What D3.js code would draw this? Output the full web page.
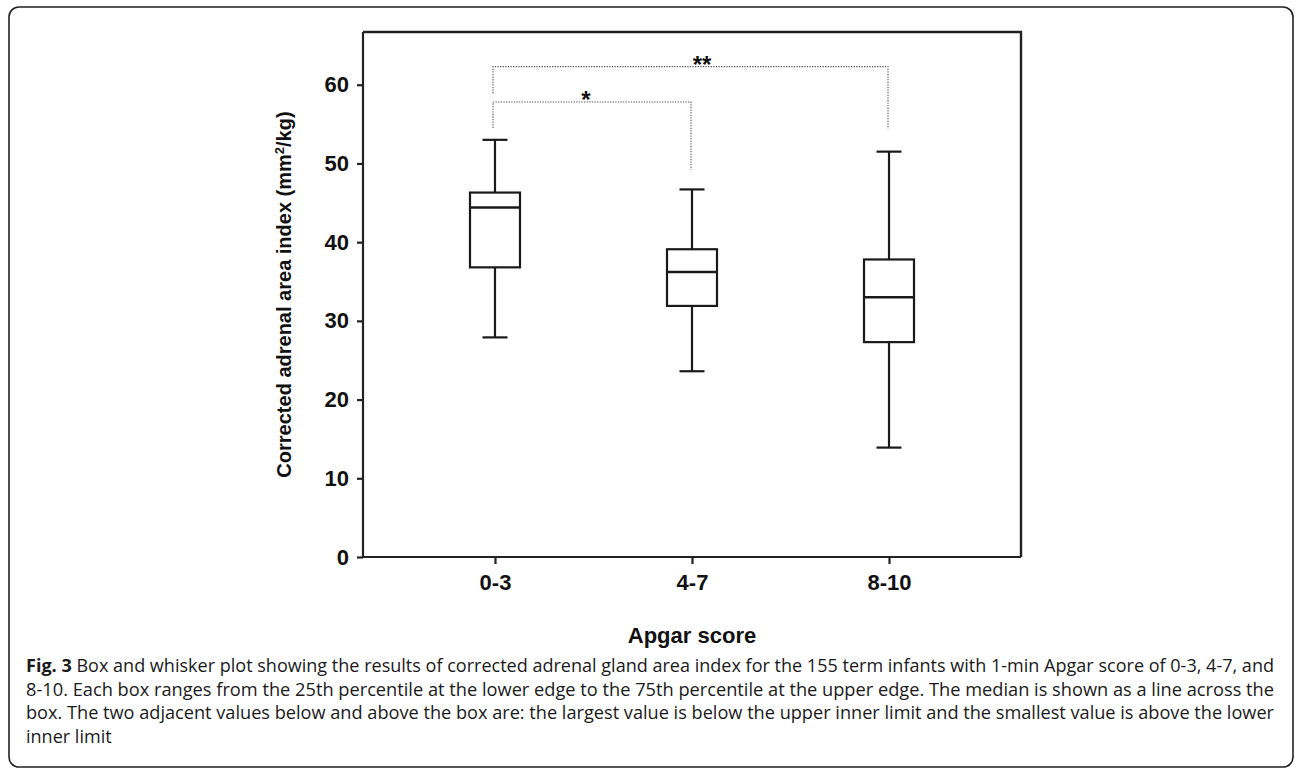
<!DOCTYPE html>
<html>
<head>
<meta charset="utf-8">
<script src="https://cdn.jsdelivr.net/npm/d3@7"></script>
<style>
  body { margin: 0; background: #fff; }
  svg { display: block; }
</style>
</head>
<body>
<div id="chart"></div>
<script>
// Data
var groups = ["0-3", "4-7", "8-10"];
var whiskerLow  = [27.9, 23.6, 13.9];
var q1          = [36.8, 31.9, 27.3];
var median      = [44.4, 36.2, 33.0];
var q3          = [46.3, 39.1, 37.8];
var whiskerHigh = [53.0, 46.7, 51.5];
var yTicks = [0, 10, 20, 30, 40, 50, 60];

// significance brackets: [from group, to group, bar level, left drop, right drop, label]
var brackets = [
    { from: "0-3", to: "4-7",  level: 57.8, left: 54.5, right: 49.2, label: "*" },
    { from: "0-3", to: "8-10", level: 62.3, left: 58.9, right: 54.4, label: "**" }
];

var caption = [
    ["Fig. 3", " Box and whisker plot showing the results of corrected adrenal gland area index for the 155 term infants with 1-min Apgar score of 0-3, 4-7, and"],
    ["", "8-10. Each box ranges from the 25th percentile at the lower edge to the 75th percentile at the upper edge. The median is shown as a line across the"],
    ["", "box. The two adjacent values below and above the box are: the largest value is below the upper inner limit and the smallest value is above the lower"],
    ["", "inner limit"]
];

var W = 1296, H = 770;
var plot = { left: 363, right: 1021, top: 32, bottom: 557 };

var svg = d3.select("#chart").append("svg")
    .attr("width", W)
    .attr("height", H);

// outer rounded frame
svg.append("rect")
    .attr("x", 9).attr("y", 7)
    .attr("width", 1284).attr("height", 760)
    .attr("rx", 10)
    .attr("fill", "none")
    .attr("stroke", "#222")
    .attr("stroke-width", 1.6);

var x = d3.scalePoint()
    .domain(groups)
    .range([plot.left, plot.right])
    .padding(0.67);

var y = d3.scaleLinear()
    .domain([0, 66.7])
    .range([plot.bottom, plot.top]);

var fontBold = "'Liberation Sans', Arial, sans-serif";

// plot frame (top and right)
svg.append("path")
    .attr("d", "M" + plot.left + "," + plot.top + "H" + plot.right + "V" + plot.bottom)
    .attr("fill", "none")
    .attr("stroke", "#222")
    .attr("stroke-width", 2.4);

// y axis
var yAxis = svg.append("g")
    .attr("transform", "translate(" + plot.left + ",0)")
    .call(d3.axisLeft(y).tickValues(yTicks).tickSize(6).tickPadding(8));
yAxis.select(".domain").attr("d", "M0," + plot.top + "V" + plot.bottom);

// x axis
var xAxis = svg.append("g")
    .attr("transform", "translate(0," + plot.bottom + ")")
    .call(d3.axisBottom(x).tickSize(7).tickPadding(10));
xAxis.select(".domain").attr("d", "M" + plot.left + ",0H" + plot.right);

svg.selectAll(".tick line, .domain")
    .attr("stroke", "#222")
    .attr("stroke-width", 2.2);
svg.selectAll(".tick text")
    .attr("fill", "#111")
    .style("font-family", fontBold)
    .style("font-weight", "bold")
    .style("font-size", "22px");

// axis titles
svg.append("text")
    .attr("transform", "translate(291," + ((plot.top + plot.bottom) / 2) + ") rotate(-90)")
    .attr("text-anchor", "middle")
    .style("font-family", fontBold)
    .style("font-weight", "bold")
    .style("font-size", "20px")
    .attr("fill", "#111")
    .html("Corrected adrenal area index (mm<tspan dy='-7' font-size='13px'>2</tspan><tspan dy='7'>/kg)</tspan>");

svg.append("text")
    .attr("x", (plot.left + plot.right) / 2)
    .attr("y", 643)
    .attr("text-anchor", "middle")
    .style("font-family", fontBold)
    .style("font-weight", "bold")
    .style("font-size", "22px")
    .attr("fill", "#111")
    .text("Apgar score");

// box plots
var boxW = 50, capW = 25;
var data = groups.map(function (g, i) {
    return { g: g, lo: whiskerLow[i], q1: q1[i], med: median[i], q3: q3[i], hi: whiskerHigh[i] };
});

var box = svg.selectAll(".box")
    .data(data)
    .enter().append("g")
    .attr("class", "box")
    .attr("stroke", "#1a1a1a")
    .attr("stroke-width", 2.2)
    .attr("fill", "none");

// whiskers
box.append("line")
    .attr("x1", d => x(d.g)).attr("x2", d => x(d.g))
    .attr("y1", d => y(d.hi)).attr("y2", d => y(d.q3));
box.append("line")
    .attr("x1", d => x(d.g)).attr("x2", d => x(d.g))
    .attr("y1", d => y(d.q1)).attr("y2", d => y(d.lo));
box.append("line")
    .attr("x1", d => x(d.g) - capW / 2).attr("x2", d => x(d.g) + capW / 2)
    .attr("y1", d => y(d.hi)).attr("y2", d => y(d.hi));
box.append("line")
    .attr("x1", d => x(d.g) - capW / 2).attr("x2", d => x(d.g) + capW / 2)
    .attr("y1", d => y(d.lo)).attr("y2", d => y(d.lo));
// box
box.append("rect")
    .attr("x", d => x(d.g) - boxW / 2)
    .attr("y", d => y(d.q3))
    .attr("width", boxW)
    .attr("height", d => y(d.q1) - y(d.q3))
    .attr("fill", "#fff");
// median
box.append("line")
    .attr("x1", d => x(d.g) - boxW / 2).attr("x2", d => x(d.g) + boxW / 2)
    .attr("y1", d => y(d.med)).attr("y2", d => y(d.med))
    .attr("stroke-width", 2.6);

// significance brackets (dotted)
var br = svg.selectAll(".bracket")
    .data(brackets)
    .enter().append("g")
    .attr("class", "bracket");

br.append("path")
    .attr("d", d => "M" + (x(d.from) - 2) + "," + y(d.left) +
        "V" + y(d.level) + "H" + (x(d.to) - 1) + "V" + y(d.right))
    .attr("fill", "none")
    .attr("stroke", "#555")
    .attr("stroke-width", 1.1)
    .attr("stroke-dasharray", "1.3,1.3");

br.append("text")
    .attr("x", d => d.label == "*" ? 586 : 702)
    .attr("y", d => y(d.level) + 6)
    .attr("text-anchor", "middle")
    .style("font-family", fontBold)
    .style("font-weight", "bold")
    .style("font-size", "24px")
    .attr("fill", "#111")
    .text(d => d.label);

// caption
var cap = svg.append("g")
    .style("font-family", "'Open Sans', sans-serif")
    .style("font-size", "18px")
    .attr("fill", "#1a1a1a");

var ratio = 1;
caption.forEach(function (line, i) {
    var t = cap.append("text")
        .attr("x", 26)
        .attr("y", 672 + i * 23.7);
    if (line[0]) {
        t.append("tspan").style("font-weight", "bold").text(line[0]);
    }
    t.append("tspan").text(line[1]);
    var natural = t.node().getComputedTextLength();
    if (i == 0) ratio = 1248 / natural;
    var target = i < caption.length - 1 ? 1248 : natural * ratio;
    t.attr("textLength", target).attr("lengthAdjust", "spacingAndGlyphs");
});
</script>
</body>
</html>
